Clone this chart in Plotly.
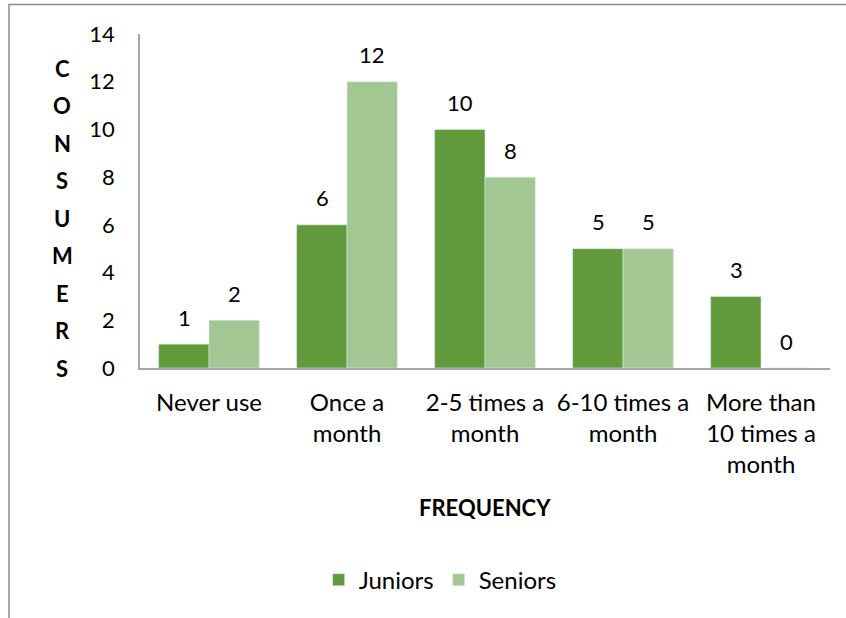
import plotly.graph_objects as go

categories = ["Never use", "Once a<br>month", "2-5 times a<br>month", "6-10 times a<br>month", "More than<br>10 times a<br>month"]
juniors = [1, 6, 10, 5, 3]
seniors = [2, 12, 8, 5, 0]
y_title_letters = list("CONSUMERS")

FONT = "Lato"
W, H = 846, 618
L, R, T, B = 140, 16, 34, 250
pw, ph = W - L - R, H - T - B
BAR_OFFSET_PX = 25

fig = go.Figure()
fig.add_trace(go.Bar(name="Juniors", x=categories, y=juniors, marker_color="#609A3D"))
fig.add_trace(go.Bar(name="Seniors", x=categories, y=seniors, marker_color="#A3C793"))

# data labels placed above each bar
for series, shift in ((juniors, -BAR_OFFSET_PX), (seniors, BAR_OFFSET_PX)):
    for c, v in zip(categories, series):
        fig.add_annotation(x=c, y=v, xref="x", yref="y", text=str(v), showarrow=False,
                           xshift=shift, yshift=27, xanchor="center", yanchor="middle",
                           font=dict(size=22, color="#000000"))

fig.update_layout(
    width=W, height=H,
    margin=dict(l=L, r=R, t=T, b=B),
    paper_bgcolor="white", plot_bgcolor="white",
    barmode="group", bargap=0.27, bargroupgap=0,
    font=dict(family=FONT, size=22, color="#000000"),
    legend=dict(orientation="h", x=0.435, xanchor="center", y=-0.635, yanchor="middle",
                font=dict(size=24), itemwidth=30, traceorder="normal"),
    xaxis=dict(showline=True, linecolor="#A6A6A6", linewidth=1.5, ticks="",
               tickfont=dict(size=24), ticklabelstandoff=12),
    yaxis=dict(range=[0, 14], dtick=2, showgrid=False, zeroline=False,
               showline=True, linecolor="#A6A6A6", linewidth=1.5, ticks="",
               tickfont=dict(size=22), ticklabelstandoff=19),
)

# x-axis title
fig.add_annotation(text="<b>FREQUENCY</b>", xref="paper", yref="paper",
                   x=0.5, y=-(507 - (T + ph)) / ph, xanchor="center", yanchor="middle",
                   showarrow=False, font=dict(size=22))

# vertical stacked y-axis title letters
for i, ch in enumerate(y_title_letters):
    ypix = 68 + i * 37.5
    fig.add_annotation(text="<b>%s</b>" % ch, xref="paper", yref="paper",
                       x=(62 - L) / pw, y=1 - (ypix - T) / ph,
                       xanchor="center", yanchor="middle", showarrow=False,
                       font=dict(size=22))

# outer chart border (left and top)
x_left = (9 - L) / pw
y_top = 1 + (T - 4.5) / ph
y_bot = -(H - (T + ph)) / ph
x_right = (W - L) / pw
fig.add_shape(type="path", xref="paper", yref="paper",
              path=f"M {x_left} {y_bot} L {x_left} {y_top} L {x_right} {y_top}",
              line=dict(color="#8C8C8C", width=1.5))

fig.write_html("out.html", config={"displayModeBar": False},
               post_script="document.body.style.margin='0';document.body.style.overflow='hidden';")
